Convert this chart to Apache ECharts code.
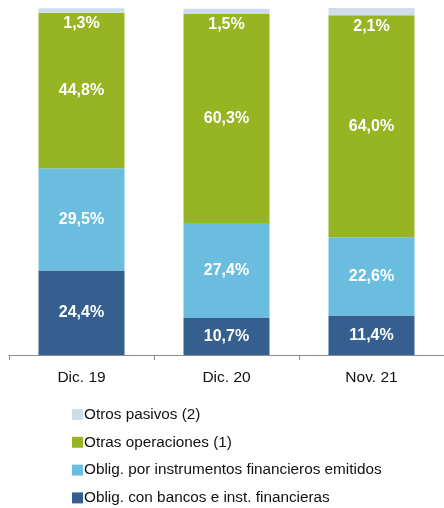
<!DOCTYPE html>
<html>
<head>
<meta charset="utf-8">
<script src="https://cdn.jsdelivr.net/npm/echarts@6/dist/echarts.min.js"></script>
<style>
  html, body { margin: 0; padding: 0; background: #fff; }
  #chart { width: 444px; height: 508px; }
</style>
</head>
<body>
<div id="chart"></div>
<script>
var categories = ['Dic. 19', 'Dic. 20', 'Nov. 21']
var bancos = [24.4, 10.7, 11.4]
var instrumentos = [29.5, 27.4, 22.6]
var operaciones = [44.8, 60.3, 64.0]
var pasivos = [1.3, 1.5, 2.1]

var names = [
  'Oblig. con bancos e inst. financieras',
  'Oblig. por instrumentos financieros emitidos',
  'Otras operaciones (1)',
  'Otros pasivos (2)'
]
var colors = ['#355F8E', '#6BBDDF', '#97B422', '#CDDDEC']

var font = '"Liberation Sans", Arial, sans-serif'

function fmt(p) {
  return p.value.toFixed(1).replace('.', ',') + '%'
}

function barSeries(name, data, color, labelPos) {
  return {
    name: name,
    type: 'bar',
    stack: 'total',
    data: data,
    barWidth: 86,
    itemStyle: { color: color },
    label: {
      show: true,
      position: labelPos,
      distance: 3,
      formatter: fmt,
      color: '#fff',
      fontFamily: font,
      fontWeight: 'bold',
      fontSize: 16
    }
  }
}

var chart = echarts.init(document.getElementById('chart'))
var option = {
  animation: false,
  grid: { left: 9, top: 8, width: 438, bottom: 153, containLabel: false },
  legend: {
    orient: 'vertical',
    left: 67,
    top: 402,
    height: 106,
    itemWidth: 11,
    itemHeight: 11,
    itemGap: 12.8,
    icon: 'rect',
    data: [names[3], names[2], names[1], names[0]],
    textStyle: {
      fontFamily: font,
      fontSize: 15.3,
      color: '#111',
      padding: [0, 0, 0, -4]
    }
  },
  xAxis: {
    type: 'category',
    data: categories,
    axisLine: { lineStyle: { color: '#8c8c8c', width: 1 } },
    axisTick: { show: true, length: 5, lineStyle: { color: '#8c8c8c' } },
    axisLabel: {
      margin: 15,
      fontFamily: font,
      fontSize: 15.5,
      color: '#111'
    }
  },
  yAxis: {
    type: 'value',
    min: 0,
    max: 100.1,
    show: false
  },
  series: [
    barSeries(names[0], bancos, colors[0], 'inside'),
    barSeries(names[1], instrumentos, colors[1], 'inside'),
    barSeries(names[2], operaciones, colors[2], 'inside'),
    barSeries(names[3], pasivos, colors[3], 'bottom')
  ]
}
chart.setOption(option)
</script>
</body>
</html>
